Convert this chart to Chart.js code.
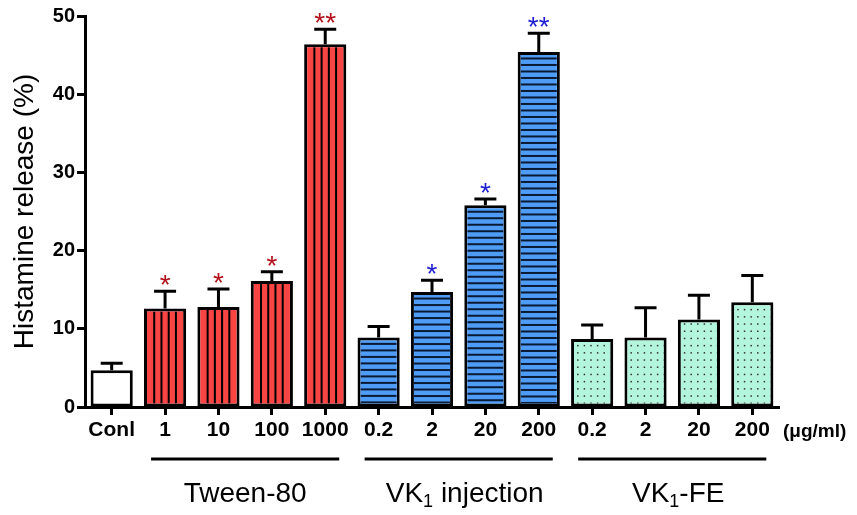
<!DOCTYPE html>
<html>
<head>
<meta charset="utf-8">
<script src="https://cdn.jsdelivr.net/npm/chart.js@4.4.0/dist/chart.umd.min.js"></script>
<style>
  body { margin: 0; background: #fff; }
  canvas { display: block; }
</style>
</head>
<body>
<canvas id="chart" width="857" height="515"></canvas>
<script>
const labels = ['Conl', '1', '10', '100', '1000', '0.2', '2', '20', '200', '0.2', '2', '20', '200'];
const means = [4.7, 12.6, 12.8, 16.1, 46.4, 8.9, 14.7, 25.8, 45.4, 8.7, 8.9, 11.2, 13.4];
const errors = [0.9, 2.2, 2.3, 1.2, 1.9, 1.4, 1.5, 0.8, 2.4, 1.8, 3.8, 3.1, 3.4];
const stars = ['', '*', '*', '*', '**', '', '*', '*', '**', '', '', '', ''];
const groupOf = ['conl', 'tween', 'tween', 'tween', 'tween', 'vk', 'vk', 'vk', 'vk', 'fe', 'fe', 'fe', 'fe'];
const groupFrom = [1, 5, 9];
const groupTo = [4, 8, 12];
// each title is a list of [text, isSubscript]
const groupTitles = [
  [['Tween-80', false]],
  [['VK', false], ['1', true], [' injection', false]],
  [['VK', false], ['1', true], ['-FE', false]]
];
const unitLabel = '(\u03bcg/ml)';

const fills = { conl: '#ffffff', tween: '#f94444', vk: '#4e9cf6', fe: '#b4f5dd' };
const starColors = { tween: '#b3121c', vk: '#1f1fd1', fe: '#000', conl: '#000' };
const FONT = "'Liberation Sans', Arial, sans-serif";

const decorPlugin = {
  id: 'decor',
  afterDatasetsDraw(chart) {
    const ctx = chart.ctx;
    const meta = chart.getDatasetMeta(0);
    const bw = 3;

    meta.data.forEach((bar, i) => {
      const { x, y, base, width } = bar.getProps(['x', 'y', 'base', 'width'], true);
      const left = x - width / 2 + bw, right = x + width / 2 - bw;
      const top = y + bw, bottom = base - bw;
      const g = groupOf[i];

      // fill patterns inside the bar
      ctx.save();
      ctx.beginPath();
      ctx.rect(left, top, right - left, bottom - top);
      ctx.clip();
      if (g === 'tween') {
        ctx.fillStyle = '#000';
        const step = (right - left) / 5;
        for (let k = 1; k < 5; k++) ctx.fillRect(left + k * step - 1, top, 2, bottom - top);
      } else if (g === 'vk') {
        ctx.fillStyle = '#0a1a33';
        for (let yy = y + 6.5; yy < base; yy += 6.5) ctx.fillRect(left, yy - 1, right - left, 2);
      } else if (g === 'fe') {
        ctx.fillStyle = '#333';
        for (let yy = base - 4; yy > top; yy -= 7.2) {
          for (let xx = left + 3; xx < right; xx += 6.6) ctx.fillRect(xx, yy, 1.5, 1.5);
        }
      }
      ctx.restore();

      // error bar (upper only)
      const yScale = chart.scales.y;
      const eTop = yScale.getPixelForValue(means[i] + errors[i]);
      ctx.save();
      ctx.strokeStyle = '#000';
      ctx.lineWidth = 3;
      ctx.beginPath();
      ctx.moveTo(x, y);
      ctx.lineTo(x, eTop);
      ctx.moveTo(x - 11, eTop);
      ctx.lineTo(x + 11, eTop);
      ctx.stroke();

      if (stars[i]) {
        ctx.fillStyle = starColors[g];
        ctx.font = '28px ' + FONT;
        ctx.textAlign = 'center';
        ctx.textBaseline = 'alphabetic';
        ctx.fillText(stars[i], x, eTop + 3);
      }
      ctx.restore();
    });
  },
  afterDraw(chart) {
    const ctx = chart.ctx;
    const meta = chart.getDatasetMeta(0);
    ctx.save();
    // unit label after the last tick label
    ctx.fillStyle = '#000';
    ctx.font = 'bold 19px ' + FONT;
    ctx.textAlign = 'left';
    ctx.textBaseline = 'middle';
    ctx.fillText(unitLabel, 783, 432);

    // group lines and titles
    groupFrom.forEach((from, gi) => {
      const x0 = meta.data[from].x - 14;
      const x1 = meta.data[groupTo[gi]].x + 14;
      ctx.fillRect(x0, 457.5, x1 - x0, 3);

      const parts = groupTitles[gi];
      const mainFont = '28px ' + FONT, subFont = '18px ' + FONT;
      let total = 0;
      parts.forEach(([t, sub]) => { ctx.font = sub ? subFont : mainFont; total += ctx.measureText(t).width; });
      let cx = (x0 + x1) / 2 - total / 2 + (parts.length > 1 ? 6 : 0);
      ctx.textBaseline = 'alphabetic';
      ctx.textAlign = 'left';
      parts.forEach(([t, sub]) => {
        ctx.font = sub ? subFont : mainFont;
        ctx.fillText(t, cx, sub ? 507 : 502);
        cx += ctx.measureText(t).width;
      });
    });
    ctx.restore();
  }
};

new Chart(document.getElementById('chart'), {
  type: 'bar',
  data: {
    labels: labels,
    datasets: [{
      data: means,
      backgroundColor: groupOf.map(g => fills[g]),
      borderColor: '#000',
      borderWidth: 3,
      borderSkipped: false,
      barPercentage: 0.79,
      categoryPercentage: 1
    }]
  },
  options: {
    responsive: false,
    animation: false,
    devicePixelRatio: 1,
    layout: { padding: { left: 0, top: 16, right: 78, bottom: 0 } },
    plugins: { legend: { display: false }, tooltip: { enabled: false } },
    scales: {
      x: {
        offset: true,
        grid: { offset: false, drawOnChartArea: false, color: '#000', tickLength: 8, tickWidth: 3 },
        border: { display: true, color: '#000', width: 3 },
        ticks: { color: '#000', font: { family: FONT, size: 21, weight: 'bold' }, padding: 3, maxRotation: 0, autoSkip: false },
        afterFit(scale) { scale.height = 108; }
      },
      y: {
        min: 0,
        max: 50,
        ticks: { stepSize: 10, color: '#000', font: { family: FONT, size: 20, weight: 'bold' }, padding: 2 },
        grid: { drawOnChartArea: false, color: '#000', tickLength: 8, tickWidth: 3 },
        border: { display: true, color: '#000', width: 3 },
        title: { display: true, text: 'Histamine release (%)', color: '#000', font: { family: FONT, size: 28 }, padding: { top: 8, bottom: 0 } },
        afterFit(scale) { scale.width = 85; }
      }
    }
  },
  plugins: [decorPlugin]
});
</script>
</body>
</html>
